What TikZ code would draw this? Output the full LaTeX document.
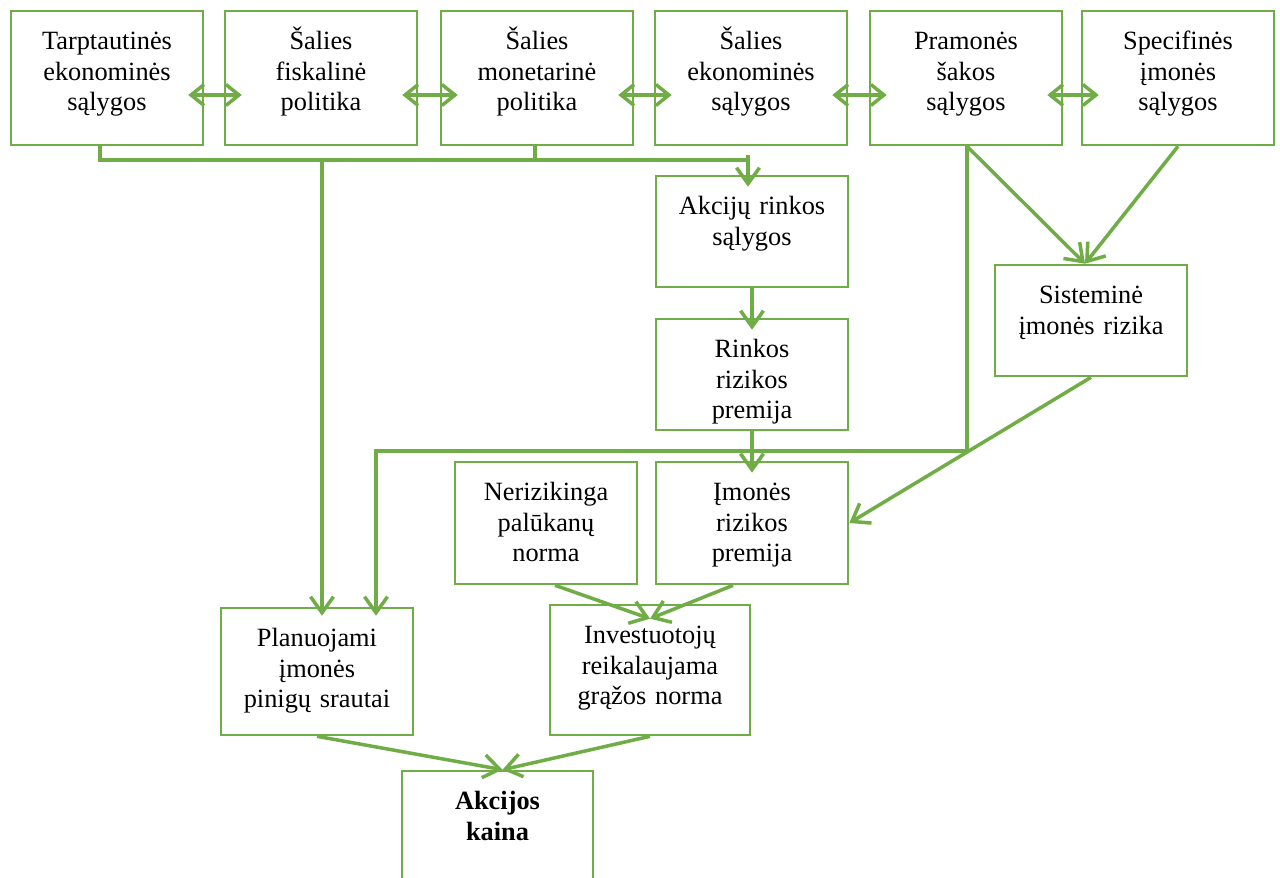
\documentclass[tikz,border=0pt]{standalone}
\usepackage{fontspec}
\setmainfont{Liberation Serif}
\usetikzlibrary{arrows.meta}
\definecolor{schemegreen}{HTML}{70AD47}

\begin{document}
\begin{tikzpicture}[x=0.02cm, y=-0.02cm,
    box/.style={draw=schemegreen, line width=1.5pt, align=center, text width=3.84cm,
      inner xsep=0pt, inner ysep=0pt, text height=0.77cm, font=\fontsize{15}{17.4}\selectfont},
    conn/.style={draw=schemegreen, line width=2pt},
    arr/.style={conn, -{Straight Barb[length=0.32cm,width=0.46cm]}},
    dbl/.style={conn, {Straight Barb[length=0.26cm,width=0.42cm]}-{Straight Barb[length=0.26cm,width=0.42cm]},
      shorten <=-0.32cm, shorten >=-0.36cm}]
        \useasboundingbox (0,0) rectangle (1280,877);

        % Top row
        \node[box, text depth=1.91cm] (tarpt) at (107,78) {Tarptautinės\\ekonominės\\sąlygos};
        \node[box, text depth=1.91cm] (fisk) at (321,78) {Šalies\\fiskalinė\\politika};
        \node[box, text depth=1.91cm] (monet) at (537,78) {Šalies\\monetarinė\\politika};
        \node[box, text depth=1.91cm] (ekon) at (751,78) {Šalies\\ekonominės\\sąlygos};
        \node[box, text depth=1.91cm] (pram) at (966,78) {Pramonės\\šakos\\sąlygos};
        \node[box, text depth=1.91cm] (spec) at (1178,78) {Specifinės\\įmonės\\sąlygos};

        % Middle boxes
        \node[box, text depth=1.45cm] (akrs) at (752,231.5) {Akcijų rinkos\\sąlygos};
        \node[box, text depth=1.45cm] (rrp) at (752,374.5) {Rinkos\\rizikos\\premija};
        \node[box, text depth=1.45cm] (sist) at (1091,320.5) {Sisteminė\\įmonės rizika};
        \node[box, text width=3.64cm, text depth=1.67cm] (neriz) at (546,523) {Nerizikinga\\palūkanų\\norma};
        \node[box, text depth=1.67cm] (irp) at (752,523) {Įmonės\\rizikos\\premija};

        % Bottom boxes
        \node[box, text depth=1.77cm] (plan) at (317,671.5) {Planuojami\\įmonės\\pinigų srautai};
        \node[box, text width=4cm, text depth=1.83cm] (inv) at (650,670) {Investuotojų\\reikalaujama\\grąžos norma};
        \node[box, text width=3.82cm, text depth=1.79cm] (kaina) at (497.5,835) {\textbf{Akcijos}\\\textbf{kaina}};

        % Bends
        \coordinate (d) at (0,95);
        \coordinate (b1) at (100,160);
        \coordinate (b2) at (322,160);
        \coordinate (b3) at (535,160);
        \coordinate (b4) at (748,160);
        \coordinate (b5) at (748,155);
        \coordinate (p1) at (967,451);
        \coordinate (p2) at (376,451);

        % Two-way links
        \draw[dbl] (tarpt.east |- d) -- (fisk.west |- d);
        \draw[dbl] (fisk.east |- d) -- (monet.west |- d);
        \draw[dbl] (monet.east |- d) -- (ekon.west |- d);
        \draw[dbl] (ekon.east |- d) -- (pram.west |- d);
        \draw[dbl] (pram.east |- d) -- (spec.west |- d);

        % Bus
        \draw[conn, line width=2.3pt] (tarpt.south -| b1) -- (b1) -- (b4);
        \draw[conn] (monet.south -| b3) -- (b3);
        \draw[arr, shorten >=-0.24cm] (b5) -- (akrs.north -| b5);
        \draw[arr, shorten >=-0.18cm] (b2) -- (plan.north -| b2);

        % Industry line
        \draw[arr, shorten >=-0.18cm] (pram.south -| p1) -- (p1) -- (p2) -- (plan.north -| p2);
        \draw[arr] (pram.south -| p1) -- ([xshift=-0.12cm]sist.north);
        \draw[arr] (spec.south) -- ([xshift=-0.12cm]sist.north);
        \draw[arr] (sist.south) -- (irp.east);

        % Risk column
        \draw[arr, shorten >=-0.24cm] (akrs.south) -- (rrp.north);
        \draw[arr, shorten >=-0.24cm] (rrp.south) -- (irp.north);

        % Required return and price
        \draw[arr] ([xshift=0.18cm]neriz.south) -- ([yshift=-0.3cm]inv.north);
        \draw[arr] ([xshift=-0.38cm]irp.south) -- ([yshift=-0.3cm]inv.north);
        \draw[arr] (plan.south) -- ([xshift=0.1cm]kaina.north);
        \draw[arr] (inv.south) -- ([xshift=0.1cm]kaina.north);
    \end{tikzpicture}
\end{document}
